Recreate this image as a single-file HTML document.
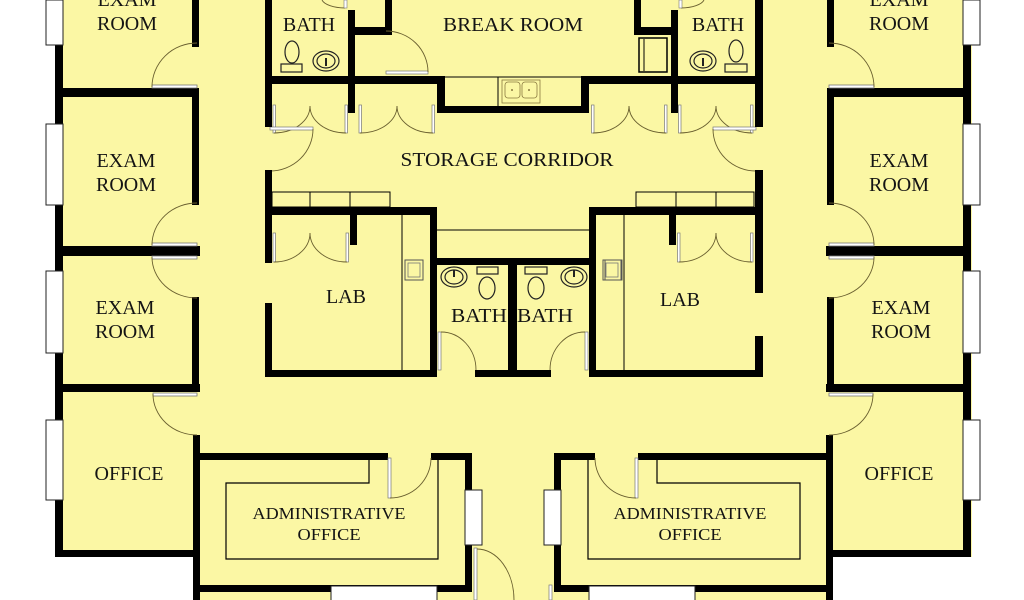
<!DOCTYPE html>
<html><head><meta charset="utf-8"><style>
html,body{margin:0;padding:0;background:#fff;}
svg{display:block;}
text{font-family:"Liberation Serif",serif;fill:#141414;}
</style></head><body>
<svg width="1024" height="600" viewBox="0 0 1024 600" xmlns="http://www.w3.org/2000/svg">
<defs>
<g id="half">
  <rect x="55" y="0" width="8" height="557" fill="#000"/>
  <rect x="55" y="550" width="145" height="7" fill="#000"/>
  <rect x="46" y="0" width="17" height="45" fill="#fff" stroke="#222" stroke-width="1"/>
  <rect x="46" y="124" width="17" height="81" fill="#fff" stroke="#222" stroke-width="1"/>
  <rect x="46" y="271" width="17" height="82" fill="#fff" stroke="#222" stroke-width="1"/>
  <rect x="46" y="420" width="17" height="80" fill="#fff" stroke="#222" stroke-width="1"/>
  <rect x="192" y="0" width="7" height="47" fill="#000"/>
  <rect x="192" y="88" width="7" height="117" fill="#000"/>
  <rect x="192" y="297" width="7" height="95" fill="#000"/>
  <rect x="193" y="435" width="7" height="165" fill="#000"/>
  <rect x="55" y="88" width="144" height="9" fill="#000"/>
  <rect x="55" y="246" width="145" height="10" fill="#000"/>
  <rect x="55" y="384" width="145" height="8" fill="#000"/>
  <g fill="#fff" stroke="#777" stroke-width="0.8">
    <rect x="152" y="85" width="45" height="3"/>
    <rect x="152" y="243" width="45" height="3"/>
    <rect x="152" y="256" width="45" height="3"/>
    <rect x="153" y="393" width="44" height="3"/>
  </g>
  <g fill="none" stroke="#6a6030" stroke-width="0.9">
    <path d="M152,87 A45,44 0 0 1 197,43"/>
    <path d="M152,245 A45,42 0 0 1 197,203"/>
    <path d="M152,257 A45,41 0 0 0 197,298"/>
    <path d="M153,394 A44,41 0 0 0 197,435"/>
  </g>
  <rect x="265" y="76" width="180" height="8" fill="#000"/>
  <rect x="348" y="10" width="7" height="103" fill="#000"/>
  <rect x="348" y="27" width="44" height="8" fill="#000"/>
  <rect x="385" y="0" width="7" height="35" fill="#000"/>
  <path d="M322,0 A24,10 0 0 0 345,8" fill="none" stroke="#6a6030" stroke-width="0.9"/>
  <rect x="344" y="0" width="3" height="8" fill="#fff" stroke="#777" stroke-width="0.6"/>
  <rect x="437" y="76" width="8" height="37" fill="#000"/>
  <rect x="437" y="106" width="77" height="7" fill="#000"/>
  <line x1="445" y1="77" x2="514" y2="77" stroke="#000" stroke-width="1"/>
  <g fill="#fff" stroke="#777" stroke-width="0.7">
    <rect x="273" y="105" width="2.5" height="28"/>
    <rect x="345" y="105" width="2.5" height="28"/>
    <rect x="359" y="105" width="2.5" height="28"/>
    <rect x="432" y="105" width="2.5" height="28"/>
    <rect x="273" y="233" width="2.5" height="29"/>
    <rect x="346" y="233" width="2.5" height="29"/>
  </g>
  <g fill="none" stroke="#6a6030" stroke-width="0.9">
    <path d="M274,133 A36,27 0 0 0 310,106"/>
    <path d="M346,133 A36,27 0 0 1 310,106"/>
    <path d="M360,133 A37,27 0 0 0 397,106"/>
    <path d="M433,133 A36,27 0 0 1 397,106"/>
    <path d="M274,262 A36,29 0 0 0 310,233"/>
    <path d="M347,262 A37,29 0 0 1 310,233"/>
  </g>
  <rect x="270" y="127" width="43" height="3" fill="#fff" stroke="#777" stroke-width="0.7"/>
  <path d="M313,129 A43,42 0 0 1 270,171" fill="none" stroke="#6a6030" stroke-width="0.9"/>
  <rect x="265" y="207" width="172" height="8" fill="#000"/>
  <rect x="265" y="370" width="172" height="7" fill="#000"/>
  <rect x="430" y="207" width="7" height="170" fill="#000"/>
  <rect x="350" y="207" width="7" height="38" fill="#000"/>
  <g fill="none" stroke="#000" stroke-width="1">
    <rect x="272" y="192" width="118" height="15"/>
    <line x1="310" y1="192" x2="310" y2="207"/>
    <line x1="350" y1="192" x2="350" y2="207"/>
    <line x1="402" y1="215" x2="402" y2="370"/>
    <line x1="437" y1="230" x2="514" y2="230"/>
  </g>
  <rect x="405" y="260" width="18" height="20" fill="none" stroke="#555" stroke-width="1"/>
  <rect x="408" y="263" width="12" height="14" fill="none" stroke="#777" stroke-width="0.8"/>
  <rect x="437" y="258" width="77" height="7" fill="#000"/>
  <rect x="475" y="370" width="39" height="7" fill="#000"/>
  <rect x="438" y="332" width="3" height="38" fill="#fff" stroke="#777" stroke-width="0.7"/>
  <path d="M441,332 A35,38 0 0 1 476,370" fill="none" stroke="#6a6030" stroke-width="0.9"/>
  <rect x="193" y="453" width="195" height="7" fill="#000"/>
  <rect x="431" y="453" width="41" height="7" fill="#000"/>
  <rect x="465" y="453" width="7" height="139" fill="#000"/>
  <rect x="193" y="585" width="279" height="7" fill="#000"/>
  <rect x="465" y="490" width="17" height="55" fill="#fff" stroke="#222" stroke-width="1"/>
  <rect x="388" y="458" width="3" height="40" fill="#fff" stroke="#777" stroke-width="0.7"/>
  <path d="M390,498 A41,40 0 0 0 431,458" fill="none" stroke="#6a6030" stroke-width="0.9"/>
  <path d="M369,460 V483 H226 V559 H438 V460" fill="none" stroke="#000" stroke-width="1.2"/>
  <rect x="331" y="586" width="106" height="16" fill="#fff" stroke="#222" stroke-width="1"/>
</g>
</defs>
<rect width="1024" height="600" fill="#fbf7a4"/>
<rect x="0" y="0" width="55" height="600" fill="#fff"/>
<rect x="0" y="557" width="193" height="43" fill="#fff"/>
<rect x="972" y="0" width="52" height="600" fill="#fff"/>
<rect x="833" y="557" width="191" height="43" fill="#fff"/>

<use href="#half"/>
<use href="#half" transform="translate(1026,0) scale(-1,1)"/>

<rect x="265" y="0" width="7" height="127" fill="#000"/>
<rect x="265" y="170" width="7" height="93" fill="#000"/>
<rect x="265" y="303" width="7" height="74" fill="#000"/>
<rect x="755" y="0" width="8" height="127" fill="#000"/>
<rect x="755" y="170" width="8" height="123" fill="#000"/>
<rect x="755" y="336" width="8" height="41" fill="#000"/>
<rect x="508" y="258" width="9" height="119" fill="#000"/>
<rect x="386" y="71" width="42" height="3" fill="#fff" stroke="#777" stroke-width="0.7"/>
<path d="M386,31 A42,41 0 0 1 428,72" fill="none" stroke="#6a6030" stroke-width="0.9"/>
<rect x="639" y="38" width="28" height="34" fill="none" stroke="#000" stroke-width="1.5"/>
<line x1="644" y1="39" x2="644" y2="71" stroke="#000" stroke-width="1"/>
<line x1="498" y1="77" x2="498" y2="106" stroke="#000" stroke-width="1"/>
<rect x="502" y="80" width="38" height="23" fill="none" stroke="#8a7a40" stroke-width="0.8"/>
<rect x="505" y="82" width="15" height="16" rx="3" fill="none" stroke="#8a7a40" stroke-width="0.8"/>
<rect x="522" y="82" width="15" height="16" rx="3" fill="none" stroke="#8a7a40" stroke-width="0.8"/>
<circle cx="512" cy="90" r="1" fill="#8a7a40"/><circle cx="529" cy="90" r="1" fill="#8a7a40"/>
<rect x="474" y="548" width="3" height="52" fill="#fff" stroke="#777" stroke-width="0.7"/>
<path d="M477,549 A37,51 0 0 1 514,600" fill="none" stroke="#6a6030" stroke-width="0.9"/>
<rect x="549" y="585" width="3" height="15" fill="#fff" stroke="#777" stroke-width="0.7"/>

<g fill="none" stroke="#222" stroke-width="1.2">
  <ellipse cx="292" cy="52" rx="7" ry="11"/>
  <rect x="281" y="64" width="21" height="8"/>
  <ellipse cx="326" cy="61" rx="13" ry="10"/>
  <ellipse cx="326" cy="61" rx="9" ry="7"/>
  <ellipse cx="736" cy="51" rx="7" ry="11"/>
  <rect x="725" y="64" width="22" height="8"/>
  <ellipse cx="703" cy="61" rx="13" ry="10"/>
  <ellipse cx="703" cy="61" rx="9" ry="7"/>
  <ellipse cx="454" cy="277" rx="13" ry="10"/>
  <ellipse cx="454" cy="277" rx="9" ry="7"/>
  <rect x="477" y="267" width="21" height="7"/>
  <ellipse cx="487" cy="288" rx="8" ry="11"/>
  <rect x="525" y="267" width="22" height="7"/>
  <ellipse cx="536" cy="288" rx="8" ry="11"/>
  <ellipse cx="574" cy="277" rx="13" ry="10"/>
  <ellipse cx="574" cy="277" rx="9" ry="7"/>
</g>
<g fill="#222">
  <rect x="325" y="58" width="2" height="8"/><rect x="702" y="58" width="2" height="8"/>
  <rect x="453" y="270" width="2" height="7"/><rect x="573" y="270" width="2" height="7"/>
</g>
<rect x="605" y="260" width="17" height="20" fill="none" stroke="#555" stroke-width="1"/>

<g font-size="20" text-anchor="middle">
  <text x="127" y="6">EXAM</text>
  <text x="127" y="30">ROOM</text>
  <text x="126" y="167">EXAM</text>
  <text x="126" y="191">ROOM</text>
  <text x="125" y="314">EXAM</text>
  <text x="125" y="338">ROOM</text>
  <text x="129" y="480">OFFICE</text>
  <text x="899" y="6">EXAM</text>
  <text x="899" y="30">ROOM</text>
  <text x="899" y="167">EXAM</text>
  <text x="899" y="191">ROOM</text>
  <text x="901" y="314">EXAM</text>
  <text x="901" y="338">ROOM</text>
  <text x="899" y="480">OFFICE</text>
  <text x="309" y="31">BATH</text>
  <text x="718" y="31">BATH</text>
  <text x="513" y="31" textLength="140" lengthAdjust="spacingAndGlyphs">BREAK ROOM</text>
  <text x="507" y="166" textLength="213" lengthAdjust="spacingAndGlyphs">STORAGE CORRIDOR</text>
  <text x="346" y="303">LAB</text>
  <text x="680" y="306">LAB</text>
  <text x="479" y="322" textLength="56" lengthAdjust="spacingAndGlyphs">BATH</text>
  <text x="545" y="322" textLength="56" lengthAdjust="spacingAndGlyphs">BATH</text>
</g>
<g font-size="17" text-anchor="middle">
  <text x="329" y="519" textLength="153" lengthAdjust="spacingAndGlyphs">ADMINISTRATIVE</text>
  <text x="329" y="540" textLength="63" lengthAdjust="spacingAndGlyphs">OFFICE</text>
  <text x="690" y="519" textLength="153" lengthAdjust="spacingAndGlyphs">ADMINISTRATIVE</text>
  <text x="690" y="540" textLength="63" lengthAdjust="spacingAndGlyphs">OFFICE</text>
</g>
</svg>
</body></html>
